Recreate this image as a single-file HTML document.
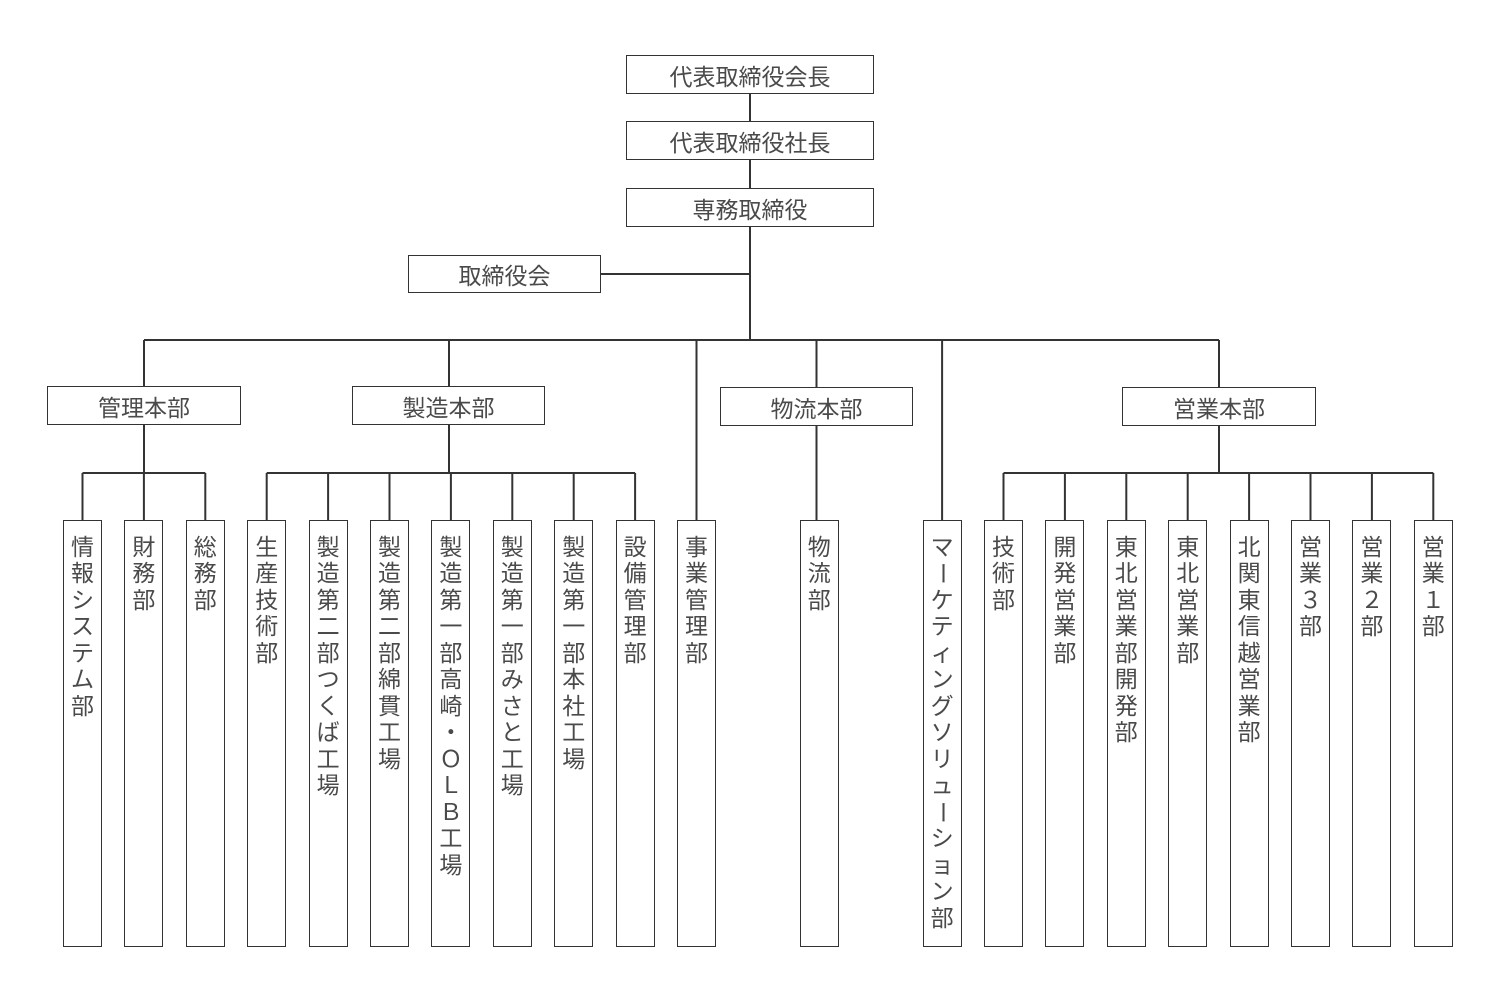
<!DOCTYPE html>
<html lang="ja">
<head>
<meta charset="utf-8">
<style>
  html, body { margin: 0; padding: 0; background: #fff; }
  body { width: 1500px; height: 1000px; position: relative; overflow: hidden;
         font-family: "Liberation Sans", "Noto Sans CJK JP", sans-serif; color: #4a4a4a; }
  svg.lines { position: absolute; left: 0; top: 0; }
  .b { position: absolute; box-sizing: border-box; border: 1.5px solid #333; background: #fff;
       font-size: 23px; text-align: center; display: flex; align-items: center; justify-content: center; }
  .c { position: absolute; top: 520px; width: 39px; height: 427px; box-sizing: border-box;
       border: 1.5px solid #333; background: #fff; }
  .t { position: absolute; left: 0; right: 0; top: 12.5px; font-size: 23px; line-height: 26.5px;
       text-align: center; }
  .v { display: inline-block; transform: rotate(90deg); }
</style>
</head>
<body>
<svg class="lines" width="1500" height="1000" viewBox="0 0 1500 1000">
  <g stroke="#333" stroke-width="2" fill="none">
    <path d="M750 94 V121 M750 160 V188 M750 227 V340 M601 274 H750"/>
    <path d="M144 340 H1219"/>
    <path d="M144 340 V386 M449 340 V386 M696.5 340 V520 M816.5 340 V387 M942.1 340 V520 M1219 340 V387"/>
    <path d="M144 425 V473 M82.5 473 H205.3 M82.5 473 V520 M143.9 473 V520 M205.3 473 V520"/>
    <path d="M449 425 V473 M266.7 473 H635.1 M266.7 473 V520 M328.1 473 V520 M389.5 473 V520 M450.9 473 V520 M512.3 473 V520 M573.7 473 V520 M635.1 473 V520"/>
    <path d="M816.5 426 V520"/>
    <path d="M1219 426 V473 M1003.5 473 H1433.3 M1003.5 473 V520 M1064.9 473 V520 M1126.3 473 V520 M1187.7 473 V520 M1249.1 473 V520 M1310.5 473 V520 M1371.9 473 V520 M1433.3 473 V520"/>
  </g>
</svg>

<div class="b" style="left:626px;top:55px;width:248px;height:39px;">代表取締役会長</div>
<div class="b" style="left:626px;top:121px;width:248px;height:39px;">代表取締役社長</div>
<div class="b" style="left:626px;top:188px;width:248px;height:39px;">専務取締役</div>
<div class="b" style="left:408px;top:255px;width:193px;height:38px;">取締役会</div>

<div class="b" style="left:47px;top:386px;width:194px;height:39px;">管理本部</div>
<div class="b" style="left:352px;top:386px;width:193px;height:39px;">製造本部</div>
<div class="b" style="left:720px;top:387px;width:193px;height:39px;">物流本部</div>
<div class="b" style="left:1122px;top:387px;width:194px;height:39px;">営業本部</div>

<div class="c" style="left:63px;"><div class="t">情<br>報<br>シ<br>ス<br>テ<br>ム<br>部</div></div>
<div class="c" style="left:124.4px;"><div class="t">財<br>務<br>部</div></div>
<div class="c" style="left:185.8px;"><div class="t">総<br>務<br>部</div></div>
<div class="c" style="left:247.2px;"><div class="t">生<br>産<br>技<br>術<br>部</div></div>
<div class="c" style="left:308.6px;"><div class="t">製<br>造<br>第<br>二<br>部<br>つ<br>く<br>ば<br>工<br>場</div></div>
<div class="c" style="left:370px;"><div class="t">製<br>造<br>第<br>二<br>部<br>綿<br>貫<br>工<br>場</div></div>
<div class="c" style="left:431.4px;"><div class="t">製<br>造<br>第<br>一<br>部<br>高<br>崎<br>・<br>Ｏ<br>Ｌ<br>Ｂ<br>工<br>場</div></div>
<div class="c" style="left:492.8px;"><div class="t">製<br>造<br>第<br>一<br>部<br>み<br>さ<br>と<br>工<br>場</div></div>
<div class="c" style="left:554.2px;"><div class="t">製<br>造<br>第<br>一<br>部<br>本<br>社<br>工<br>場</div></div>
<div class="c" style="left:615.6px;"><div class="t">設<br>備<br>管<br>理<br>部</div></div>
<div class="c" style="left:677px;"><div class="t">事<br>業<br>管<br>理<br>部</div></div>
<div class="c" style="left:799.8px;"><div class="t">物<br>流<br>部</div></div>
<div class="c" style="left:922.6px;"><div class="t">マ<br><span class="v">ー</span><br>ケ<br>テ<br>ィ<br>ン<br>グ<br>ソ<br>リ<br>ュ<br><span class="v">ー</span><br>シ<br>ョ<br>ン<br>部</div></div>
<div class="c" style="left:984px;"><div class="t">技<br>術<br>部</div></div>
<div class="c" style="left:1045.4px;"><div class="t">開<br>発<br>営<br>業<br>部</div></div>
<div class="c" style="left:1106.8px;"><div class="t">東<br>北<br>営<br>業<br>部<br>開<br>発<br>部</div></div>
<div class="c" style="left:1168.2px;"><div class="t">東<br>北<br>営<br>業<br>部</div></div>
<div class="c" style="left:1229.6px;"><div class="t">北<br>関<br>東<br>信<br>越<br>営<br>業<br>部</div></div>
<div class="c" style="left:1291px;"><div class="t">営<br>業<br>３<br>部</div></div>
<div class="c" style="left:1352.4px;"><div class="t">営<br>業<br>２<br>部</div></div>
<div class="c" style="left:1413.8px;"><div class="t">営<br>業<br>１<br>部</div></div>
</body>
</html>
